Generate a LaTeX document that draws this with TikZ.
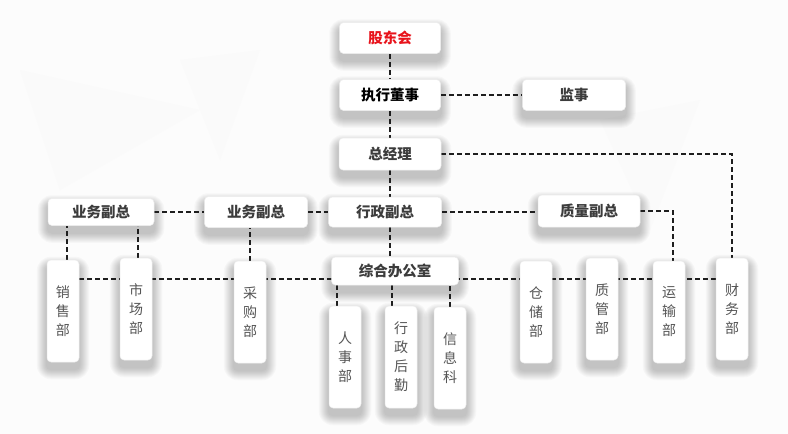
\documentclass[tikz,border=0pt]{standalone}
\usepackage{fontspec}
\newfontfamily\cjk{Noto Sans CJK SC}
\usetikzlibrary{calc}
\pgfdeclarelayer{bg}
\pgfdeclarelayer{shade}
\pgfdeclarelayer{lines}
\pgfsetlayers{bg,shade,lines,main}
\definecolor{redt}{HTML}{E8131B}
\definecolor{headc}{HTML}{3C3C3C}
\definecolor{deptc}{HTML}{555555}
\definecolor{linec}{HTML}{1E1E1E}
\definecolor{bgc}{HTML}{FCFCFC}
\definecolor{bgp}{HTML}{FAFAFA}
\begin{document}
\begin{tikzpicture}[x=1pt,y=-1pt,
  box/.style={draw=black!7, line width=0.5pt, fill=white, rounded corners=4pt, inner sep=0pt},
  head/.style={box, font=\cjk\bfseries\fontsize{14.5}{17}\selectfont, text=headc},
  dept/.style={box, minimum width=32pt, minimum height=102pt, align=center,
    font=\cjk\fontsize{14}{19}\selectfont, text=deptc},
  link/.style={draw=linec, line width=1.1pt, dash pattern=on 5pt off 3pt},
  shadowpart/.style={fill=black, opacity=0.024}
]
\useasboundingbox (0,0) rectangle (788,434);
\begin{pgfonlayer}{bg}
  \fill[bgc] (0,0) rectangle (788,434);
  \fill[bgp] (180,60) -- (260,50) -- (220,160) -- cycle;
  \fill[bgp] (20,70) -- (200,110) -- (60,190) -- cycle;
  \fill[bgp] (600,120) -- (700,100) -- (650,230) -- cycle;
\end{pgfonlayer}

% top level
\node[head, text=redt, minimum width=101pt, minimum height=31pt] (gd) at (390,38) {股东会};
\node[head, text=black, minimum width=101pt, minimum height=31pt] (zx) at (390,95) {执行董事};
\node[head, minimum width=103pt, minimum height=31pt] (js) at (574,95) {监事};
\node[head, minimum width=102pt, minimum height=32pt] (zjl) at (390,154) {总经理};

% vice level
\node[head, minimum width=106pt, minimum height=27pt] (yw1) at (101,212) {业务副总};
\node[head, minimum width=103pt, minimum height=31pt] (yw2) at (256,212) {业务副总};
\node[head, minimum width=113pt, minimum height=30pt] (xz) at (385,212) {行政副总};
\node[head, minimum width=102pt, minimum height=32pt] (zl) at (589,211) {质量副总};
\node[head, minimum width=127pt, minimum height=28pt] (zh) at (395,271) {综合办公室};

% departments
\node[dept] (xs) at (63,311) {销\\售\\部};
\node[dept] (sc) at (136,309) {市\\场\\部};
\node[dept] (cg) at (250,312) {采\\购\\部};
\node[dept] (rs) at (345,357) {人\\事\\部};
\node[dept] (hq) at (401,357) {行\\政\\后\\勤};
\node[dept] (xx) at (450,358) {信\\息\\科};
\node[dept] (cc) at (536,312) {仓\\储\\部};
\node[dept] (zg) at (602,309) {质\\管\\部};
\node[dept] (ys) at (669,312) {运\\输\\部};
\node[dept] (cw) at (732,309) {财\\务\\部};

\coordinate (hline) at (0,279);

% soft shadows
\begin{pgfonlayer}{shade}
  \foreach \n in {gd,zx,js,zjl,yw1,yw2,xz,zl,zh,xs,sc,cg,rs,hq,xx,cc,zg,ys,cw} {
    \foreach \k in {1,...,10} {
      \fill[shadowpart, rounded corners=4pt+\k pt]
        ([xshift=-\k pt, yshift=-\k pt-7pt]\n.south west) rectangle
        ([xshift=\k pt, yshift=\k pt-7pt]\n.north east);
    }
  }
\end{pgfonlayer}

\begin{pgfonlayer}{lines}
  \draw[link] (gd.south) -- (zx.north);
  \draw[link] (zx.south) -- (zjl.north);
  \draw[link] (zx.east) -- (js.west);
  \draw[link] (zjl.south) -- (zjl.south |- xz.north);
  \draw[link] (zjl.east) -| (cw.north);
  \draw[link] (yw1.east) -- (yw2.west);
  \draw[link] (yw2.east) -- (xz.west);
  \draw[link] (xz.east) -- (xz.east -| zl.west);
  \draw[link] (zl.east) -| ([xshift=4pt]ys.north);
  \draw[link] ([xshift=4pt]xs.north) -- ([xshift=4pt]xs.north |- yw1.south);
  \draw[link] ([xshift=2pt]sc.north) -- ([xshift=2pt]sc.north |- yw1.south);
  \draw[link] (cg.north) -- (cg.north |- yw2.south);
  \draw[link] (zjl.south |- xz.south) -- (zjl.south |- zh.north);
  \draw[link] ([xshift=-8pt]rs.north) -- ([xshift=-8pt]rs.north |- zh.south);
  \draw[link] ([xshift=-9pt]hq.north) -- ([xshift=-9pt]hq.north |- zh.south);
  \draw[link] (xx.north) -- (xx.north |- zh.south);
  \draw[link] (xs.east |- hline) -- (cw.west |- hline);
\end{pgfonlayer}
\end{tikzpicture}
\end{document}
